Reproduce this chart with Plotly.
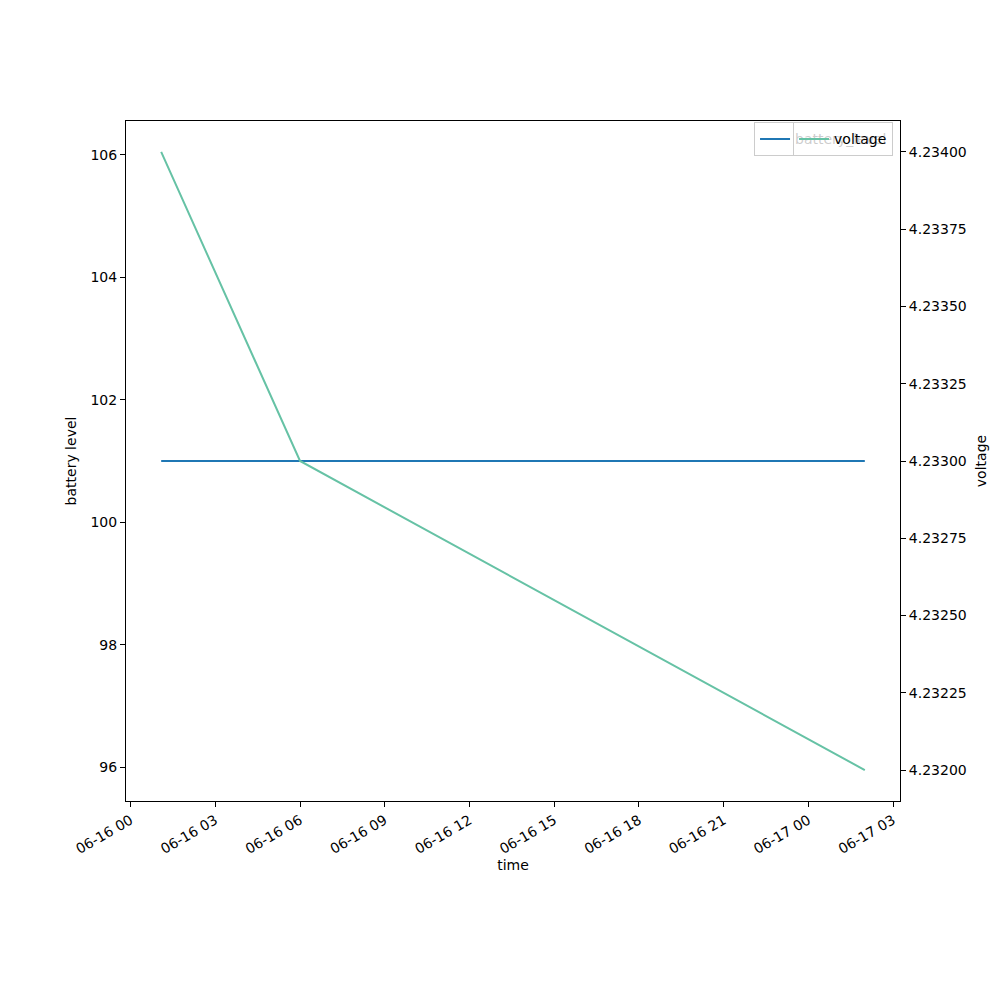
import pandas as pd
import plotly.graph_objects as go

times = ["2023-06-16 01:05", "2023-06-16 06:00", "2023-06-17 02:00"]
battery_level = [101, 101, 101]
voltage = [4.234, 4.233, 4.232]

t = pd.to_datetime(times)
span = t.max() - t.min()
x_range = [t.min() - 0.05 * span, t.max() + 0.05 * span]

font = dict(family="DejaVu Sans", size=14, color="black")

fig = go.Figure()
fig.add_trace(go.Scatter(x=t, y=battery_level, mode="lines", name="battery_level",
                         line=dict(color="#1f77b4", width=2), yaxis="y", legend="legend"))
fig.add_trace(go.Scatter(x=t, y=voltage, mode="lines", name="voltage",
                         line=dict(color="#66c2a5", width=2), yaxis="y2", legend="legend2"))

axis_common = dict(showgrid=False, zeroline=False, showline=True, linecolor="black",
                   linewidth=1, ticks="outside", ticklen=5, tickcolor="black", tickfont=font)

fig.update_layout(
    width=1000, height=1000,
    margin=dict(l=118, r=108, t=113, b=207),
    paper_bgcolor="white", plot_bgcolor="white",
    font=font,
    xaxis=dict(**axis_common, range=x_range, mirror=True, tickformat="%m-%d %H",
               dtick=3 * 3600 * 1000, tick0="2023-06-16 00:00", tickangle=-30,
               title=dict(text="time", font=font, standoff=4)),
    yaxis=dict(**axis_common, range=[95.45, 106.55], dtick=2, tick0=96,
               title=dict(text="battery level", font=font, standoff=10)),
    yaxis2=dict(**axis_common, range=[4.2319, 4.2341], overlaying="y", side="right",
                dtick=0.00025, tick0=4.232, tickformat=".5f",
                title=dict(text="voltage", font=font, standoff=10)),
    legend=dict(x=0.991, y=0.998, xanchor="right", yanchor="top",
                bgcolor="rgba(255,255,255,0.8)", bordercolor="#cccccc", borderwidth=1,
                font=font, itemwidth=30),
    legend2=dict(x=0.991, y=0.998, xanchor="right", yanchor="top",
                 bgcolor="rgba(255,255,255,0.8)", bordercolor="#cccccc", borderwidth=1,
                 font=font, itemwidth=30),
    showlegend=True,
)

fig.write_html("out.html")
